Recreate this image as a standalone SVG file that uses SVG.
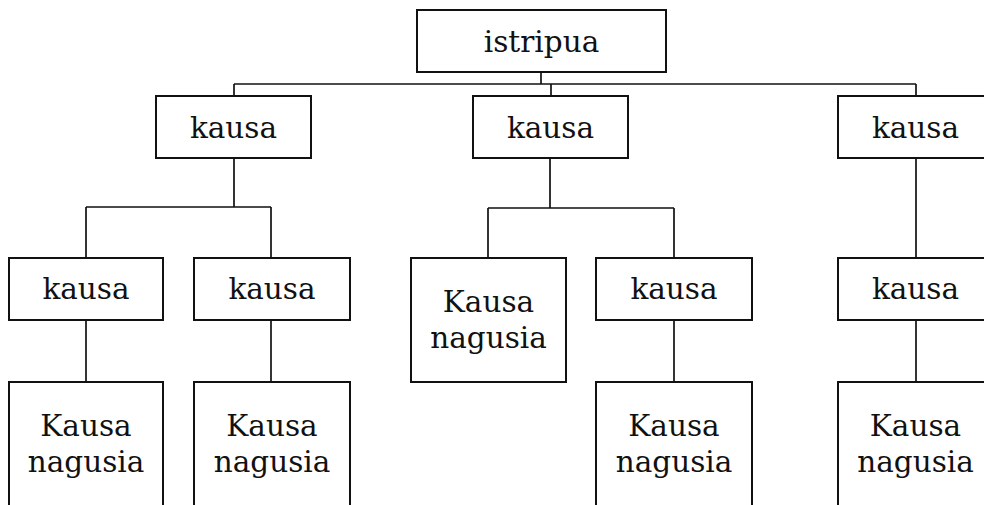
<svg xmlns="http://www.w3.org/2000/svg" width="984" height="505" viewBox="0 0 984 505">
  <style>
    .box { fill: #ffffff; stroke: #111111; stroke-width: 2; }
    .lbl { font-family: "DejaVu Serif", "Liberation Serif", serif; font-size: 29.5px; fill: #111111; text-anchor: middle; }
    .wire { fill: none; stroke: #111111; stroke-width: 1.7; }
  </style>
  <rect width="984" height="505" fill="#ffffff"/>

  <!-- connectors -->
  <g id="connectors" class="wire">
    <path d="M541 72 V84"/>
    <path d="M234 84 H916"/>
    <path d="M234 84 V96"/>
    <path d="M551 84 V96"/>
    <path d="M916 84 V97"/>
    <path d="M234 158 V207 M86 207 H271 M86 207 V258 M271 207 V258"/>
    <path d="M550 158 V208 M488 208 H674 M488 208 V258 M674 208 V258"/>
    <path d="M916 158 V258"/>
    <path d="M86 320 V382"/>
    <path d="M271 320 V382"/>
    <path d="M674 320 V382"/>
    <path d="M916 320 V382"/>
  </g>

  <!-- root -->
  <g id="root">
    <rect class="box" x="417" y="10" width="249" height="62"/>
    <text class="lbl" x="541.5" y="52">istripua</text>
  </g>

  <!-- first level -->
  <g id="k1">
    <rect class="box" x="156" y="96" width="155" height="62"/>
    <text class="lbl" x="233.5" y="138">kausa</text>
  </g>
  <g id="k2">
    <rect class="box" x="473" y="96" width="155" height="62"/>
    <text class="lbl" x="550.5" y="138">kausa</text>
  </g>
  <g id="k3">
    <rect class="box" x="838" y="96" width="155" height="62"/>
    <text class="lbl" x="915.5" y="138">kausa</text>
  </g>

  <!-- second level -->
  <g id="k1a">
    <rect class="box" x="9" y="258" width="154" height="62"/>
    <text class="lbl" x="86" y="299">kausa</text>
  </g>
  <g id="k1b">
    <rect class="box" x="194" y="258" width="156" height="62"/>
    <text class="lbl" x="272" y="299">kausa</text>
  </g>
  <g id="k2a">
    <rect class="box" x="411" y="258" width="155" height="124"/>
    <text class="lbl" x="488.5" y="312">Kausa</text>
    <text class="lbl" x="488.5" y="348">nagusia</text>
  </g>
  <g id="k2b">
    <rect class="box" x="596" y="258" width="156" height="62"/>
    <text class="lbl" x="674" y="299">kausa</text>
  </g>
  <g id="k3a">
    <rect class="box" x="838" y="258" width="155" height="62"/>
    <text class="lbl" x="915.5" y="299">kausa</text>
  </g>

  <!-- third level -->
  <g id="m1">
    <rect class="box" x="9" y="382" width="154" height="124"/>
    <text class="lbl" x="86" y="436">Kausa</text>
    <text class="lbl" x="86" y="472">nagusia</text>
  </g>
  <g id="m2">
    <rect class="box" x="194" y="382" width="156" height="124"/>
    <text class="lbl" x="272" y="436">Kausa</text>
    <text class="lbl" x="272" y="472">nagusia</text>
  </g>
  <g id="m3">
    <rect class="box" x="596" y="382" width="156" height="124"/>
    <text class="lbl" x="674" y="436">Kausa</text>
    <text class="lbl" x="674" y="472">nagusia</text>
  </g>
  <g id="m4">
    <rect class="box" x="838" y="382" width="155" height="124"/>
    <text class="lbl" x="915.5" y="436">Kausa</text>
    <text class="lbl" x="915.5" y="472">nagusia</text>
  </g>
</svg>
